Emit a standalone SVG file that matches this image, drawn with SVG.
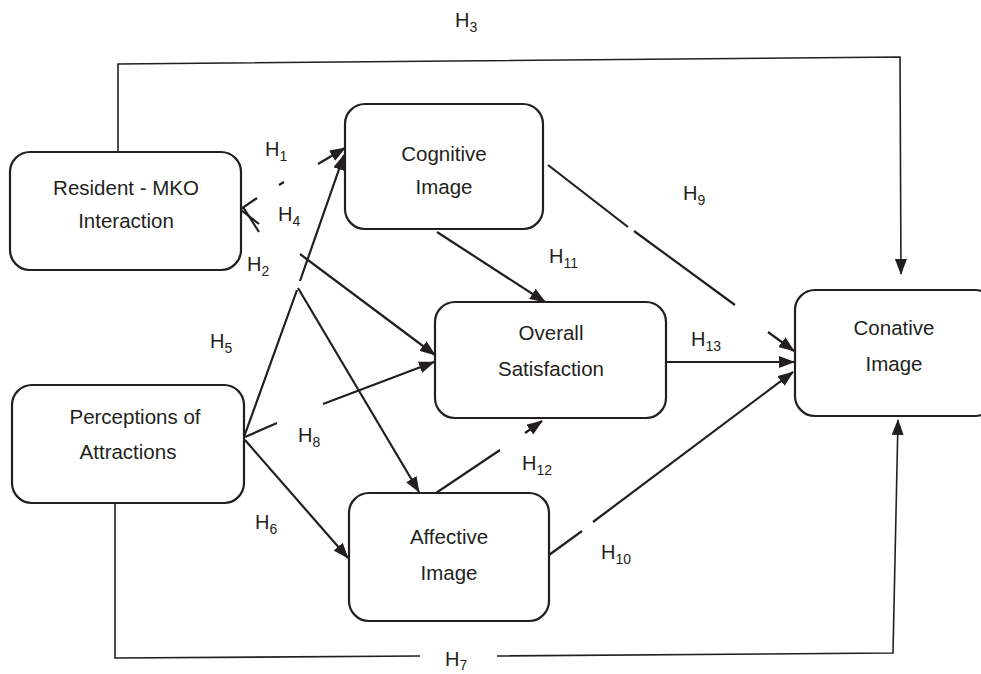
<svg xmlns="http://www.w3.org/2000/svg" width="981" height="674" viewBox="0 0 981 674">
<defs>
<marker id="arr" markerWidth="16" markerHeight="12" refX="15" refY="6" orient="auto" markerUnits="userSpaceOnUse">
<path d="M0,0 L16,6 L0,12 Z" fill="#231f20"/>
</marker>
<style>
.box{fill:#fff;stroke:#231f20;stroke-width:2.2}
.lbl{font-family:"Liberation Sans","Open Sans",sans-serif;font-size:20.5px;fill:#231f20;text-anchor:middle}
.h{font-family:"Liberation Sans","Open Sans",sans-serif;font-size:20px;fill:#231f20}
.sub{font-size:14px}
.c{fill:none;stroke:#231f20;stroke-width:2.2}
.c2{fill:none;stroke:#231f20;stroke-width:1.6}
</style>
</defs>
<rect width="981" height="674" fill="#fff"/>
<g id="connectors">
<path class="c2" d="M118,155 L118,64 L900,57 L901,274" marker-end="url(#arr)"/>
<path class="c2" d="M115,503 L115,658 L420,656 M497,656 L893,653 L898,420" marker-end="url(#arr)"/>
<path class="c" d="M241,209 L257,198 M279,185 L284,182 M318,164 L345,148" marker-end="url(#arr)"/>
<path class="c" d="M241,210 L259,224 M300,254 L435,355" marker-end="url(#arr)"/>
<path class="c" d="M243,207 L259,232 M298,288 L419,492" marker-end="url(#arr)"/>
<path class="c" d="M244,437 L297,290 M300,281 L344,155" marker-end="url(#arr)"/>
<path class="c" d="M245,437 L277,423 M323,404 L434,362" marker-end="url(#arr)"/>
<path class="c" d="M245,440 L348,558" marker-end="url(#arr)"/>
<path class="c" d="M437,232 L545,302" marker-end="url(#arr)"/>
<path class="c" d="M436,493 L500,450 M525,433 L542,421" marker-end="url(#arr)"/>
<path class="c" d="M548,165 L628,227 M634,231 L735,305 M768,332 L794,351" marker-end="url(#arr)"/>
<path class="c" d="M666,362 L794,362" marker-end="url(#arr)"/>
<path class="c" d="M549,555 L582,531 M593,522 L793,372" marker-end="url(#arr)"/>
</g>
<g id="resident">
<rect class="box" x="10" y="152" width="231" height="118" rx="20"/>
<text class="lbl" x="126" y="195">Resident - MKO</text>
<text class="lbl" x="126" y="228">Interaction</text>
</g>
<g id="cognitive">
<rect class="box" x="345" y="104" width="198" height="125" rx="20"/>
<text class="lbl" x="444" y="161">Cognitive</text>
<text class="lbl" x="444" y="194">Image</text>
</g>
<g id="overall">
<rect class="box" x="435" y="302" width="231" height="116" rx="20"/>
<text class="lbl" x="551" y="340">Overall</text>
<text class="lbl" x="551" y="376">Satisfaction</text>
</g>
<g id="perceptions">
<rect class="box" x="12" y="385" width="232" height="118" rx="20"/>
<text class="lbl" x="135" y="424">Perceptions of</text>
<text class="lbl" x="128" y="459">Attractions</text>
</g>
<g id="affective">
<rect class="box" x="349" y="493" width="200" height="128" rx="20"/>
<text class="lbl" x="449" y="544">Affective</text>
<text class="lbl" x="449" y="580">Image</text>
</g>
<g id="conative">
<rect class="box" x="795" y="290" width="200" height="126" rx="20"/>
<text class="lbl" x="894" y="335">Conative</text>
<text class="lbl" x="894" y="371">Image</text>
</g>
<g id="labels">
<text class="h" x="455" y="27">H<tspan class="sub" dy="5">3</tspan></text>
<text class="h" x="265" y="156">H<tspan class="sub" dy="5">1</tspan></text>
<text class="h" x="278" y="221">H<tspan class="sub" dy="5">4</tspan></text>
<text class="h" x="247" y="271">H<tspan class="sub" dy="5">2</tspan></text>
<text class="h" x="210" y="348">H<tspan class="sub" dy="5">5</tspan></text>
<text class="h" x="298" y="442">H<tspan class="sub" dy="5">8</tspan></text>
<text class="h" x="255" y="529">H<tspan class="sub" dy="5">6</tspan></text>
<text class="h" x="445" y="666">H<tspan class="sub" dy="4">7</tspan></text>
<text class="h" x="549" y="263">H<tspan class="sub" dy="5">11</tspan></text>
<text class="h" x="522" y="470">H<tspan class="sub" dy="5">12</tspan></text>
<text class="h" x="683" y="200">H<tspan class="sub" dy="5">9</tspan></text>
<text class="h" x="691" y="346">H<tspan class="sub" dy="5">13</tspan></text>
<text class="h" x="601" y="559">H<tspan class="sub" dy="5">10</tspan></text>
</g>
</svg>
